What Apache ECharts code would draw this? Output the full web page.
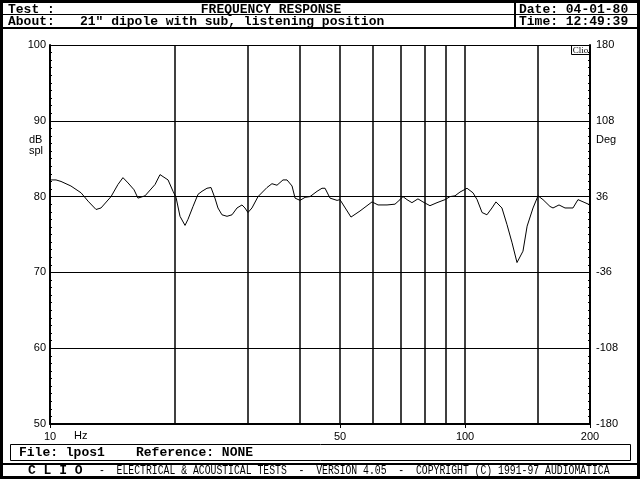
<!DOCTYPE html>
<html><head><meta charset="utf-8">
<script src="https://cdn.jsdelivr.net/npm/echarts@6/dist/echarts.min.js"></script>
<style>html,body{margin:0;padding:0;background:#fff}#c{width:640px;height:480px}</style>
</head><body><div id="c"></div>
<script>
// Frequency (Hz) and level (dB spl)
const freqs = [10.06, 10.34, 10.63, 11.23, 11.88, 12.35, 12.91, 13.27, 14.03, 14.58,
  14.99, 15.42, 15.94, 16.29, 16.94, 17.91, 18.41, 19.25, 19.79, 20.12,
  20.57, 21.15, 21.50, 22.11, 22.73, 23.24, 23.89, 24.43, 24.97, 25.39,
  25.96, 26.70, 27.45, 28.22, 29.01, 29.49, 29.99, 30.66, 31.71, 33.33,
  34.26, 35.23, 36.42, 37.24, 38.30, 38.94, 40.03, 41.16, 42.31, 44.00,
  45.22, 45.99, 47.28, 49.16, 49.96, 53.11, 55.83, 59.69, 61.71, 64.86,
  67.79, 69.70, 70.87, 72.45, 74.48, 77.00, 79.17, 82.31, 85.59, 89.48,
  91.99, 94.57, 97.23, 101.1, 104.5, 106.9, 109.9, 112.9, 116.1, 118.7,
  122.7, 126.2, 129.8, 133.4, 137.9, 141.1, 145.8, 149.9, 154.1, 160.2,
  162.9, 168.4, 174.1, 182.0, 187.1, 194.5, 200];
const levels = [82.2, 82.2, 82.0, 81.4, 80.5, 79.4, 78.3, 78.5, 80.0, 81.6,
  82.5, 81.8, 80.9, 79.8, 80.1, 81.6, 82.9, 82.2, 80.7, 79.9,
  77.4, 76.2, 77.0, 78.7, 80.3, 80.7, 81.1, 81.2, 79.8, 78.5,
  77.6, 77.4, 77.6, 78.5, 78.9, 78.5, 77.9, 78.5, 80.0, 81.2,
  81.7, 81.5, 82.2, 82.2, 81.4, 79.8, 79.5, 79.9, 80.0, 80.7,
  81.1, 81.1, 79.8, 79.5, 79.6, 77.3, 78.1, 79.3, 78.9, 78.9,
  79.0, 79.6, 80.0, 79.6, 79.2, 79.7, 79.3, 78.8, 79.2, 79.6,
  80.0, 80.1, 80.6, 81.1, 80.5, 79.6, 77.9, 77.6, 78.5, 79.3,
  78.5, 76.3, 73.9, 71.3, 72.8, 76.1, 78.5, 80.1, 79.6, 78.7,
  78.5, 78.9, 78.5, 78.5, 79.6, 79.2, 78.9];
const gridFreqs = [20, 30, 40, 50, 60, 70, 80, 90, 100, 150];
const xTickValues = [10, 50, 100, 200];
const leftTickValues = [50, 60, 70, 80, 90, 100];
const rightTickLabels = ['-180', '-108', '-36', '36', '108', '180'];

const MONO = '"Liberation Mono", "DejaVu Sans Mono", monospace';
const SANS = '"Liberation Sans", Arial, sans-serif';
const hdr = 'bold 13px ' + MONO;

const chart = echarts.init(document.getElementById('c'), null, {renderer: 'canvas'});
const axisLabelStyle = {color: '#000', fontFamily: SANS, fontSize: 11};
chart.setOption({
  backgroundColor: '#fff',
  animation: false,
  grid: {left: 50, right: 50, top: 45, bottom: 56},
  xAxis: {
    type: 'log', logBase: 10, min: 10, max: 200,
    axisLine: {show: true, onZero: false, lineStyle: {color: '#000', width: 2}},
    axisTick: {show: true, customValues: xTickValues, length: 4, lineStyle: {color: '#000', width: 1}},
    axisLabel: Object.assign({customValues: xTickValues, margin: 7}, axisLabelStyle),
    splitLine: {show: false}, minorTick: {show: false}, minorSplitLine: {show: false}
  },
  yAxis: [
    {
      type: 'value', min: leftTickValues[0], max: leftTickValues[leftTickValues.length - 1], interval: 10, position: 'left',
      axisLine: {show: true, lineStyle: {color: '#000', width: 2}},
      axisTick: {show: true, inside: true, length: 4, lineStyle: {color: '#000'}},
      minorTick: {show: true, splitNumber: 10, length: 2, lineStyle: {color: '#000'}},
      splitLine: {show: true, lineStyle: {color: '#000', width: 1}},
      axisLabel: Object.assign({margin: 4}, axisLabelStyle)
    },
    {
      type: 'value', min: leftTickValues[0], max: leftTickValues[leftTickValues.length - 1], interval: 10, position: 'right',
      axisLine: {show: true, lineStyle: {color: '#000', width: 2}},
      axisTick: {show: true, inside: true, length: 4, lineStyle: {color: '#000'}},
      minorTick: {show: true, splitNumber: 10, length: 2, lineStyle: {color: '#000'}},
      splitLine: {show: false},
      axisLabel: Object.assign({margin: 6, formatter: v => rightTickLabels[leftTickValues.indexOf(v)]}, axisLabelStyle)
    }
  ],
  series: [{
    type: 'line', yAxisIndex: 0, symbol: 'none', smooth: false,
    data: freqs.map((f, i) => [f, levels[i]]),
    lineStyle: {color: '#000', width: 1},
    markLine: {
      silent: true, symbol: ['none', 'none'], label: {show: false},
      lineStyle: {color: '#000', type: 'solid', width: 1.5},
      emphasis: {disabled: true},
      data: gridFreqs.map(f => ({xAxis: f}))
    }
  }],
  graphic: [
    {type: 'rect', shape: {x: 1.5, y: 1.5, width: 637, height: 476}, style: {fill: 'none', stroke: '#000', lineWidth: 3}},
    {type: 'rect', shape: {x: 3, y: 14, width: 634, height: 1}, style: {fill: '#000'}},
    {type: 'rect', shape: {x: 3, y: 27, width: 634, height: 2}, style: {fill: '#000'}},
    {type: 'rect', shape: {x: 514, y: 0, width: 2, height: 28}, style: {fill: '#000'}},
    {type: 'rect', shape: {x: 3, y: 463, width: 634, height: 2}, style: {fill: '#000'}},
    {type: 'rect', shape: {x: 10.5, y: 444.5, width: 620, height: 16}, style: {fill: 'none', stroke: '#000', lineWidth: 1}},
    {type: 'text', x: 8, y: 9.5, style: {text: 'Test :', font: hdr, fill: '#000', verticalAlign: 'middle'}},
    {type: 'text', x: 271, y: 9.5, style: {text: 'FREQUENCY RESPONSE', font: hdr, fill: '#000', align: 'center', verticalAlign: 'middle'}},
    {type: 'text', x: 519, y: 9.5, style: {text: 'Date: 04-01-80', font: hdr, fill: '#000', verticalAlign: 'middle'}},
    {type: 'text', x: 8, y: 22, style: {text: 'About:', font: hdr, fill: '#000', verticalAlign: 'middle'}},
    {type: 'text', x: 80, y: 22, style: {text: '21" dipole with sub, listening position', font: hdr, fill: '#000', verticalAlign: 'middle'}},
    {type: 'text', x: 519, y: 22, style: {text: 'Time: 12:49:39', font: hdr, fill: '#000', verticalAlign: 'middle'}},
    {type: 'text', x: 19, y: 453, style: {text: 'File: lpos1    Reference: NONE', font: hdr, fill: '#000', verticalAlign: 'middle'}},
    {type: 'text', x: 28, y: 471, style: {text: 'C L I O', font: 'bold 13px ' + MONO, fill: '#000', verticalAlign: 'middle'}},
    {type: 'text', x: 99, y: 471, scaleX: 0.815, style: {
      text: '-  ELECTRICAL & ACOUSTICAL TESTS  -  VERSION 4.05  -  COPYRIGHT (C) 1991-97 AUDIOMATICA',
      font: '12px ' + MONO, fill: '#000', verticalAlign: 'middle'}},
    {type: 'text', x: 29, y: 140, style: {text: 'dB', font: '11px ' + SANS, fill: '#000', verticalAlign: 'middle'}},
    {type: 'text', x: 29, y: 151, style: {text: 'spl', font: '11px ' + SANS, fill: '#000', verticalAlign: 'middle'}},
    {type: 'text', x: 596, y: 140, style: {text: 'Deg', font: '11px ' + SANS, fill: '#000', verticalAlign: 'middle'}},
    {type: 'text', x: 74, y: 436, style: {text: 'Hz', font: '11px ' + SANS, fill: '#000', verticalAlign: 'middle'}},
    {type: 'rect', shape: {x: 571.5, y: 45.5, width: 18, height: 9}, style: {fill: '#fff', stroke: '#000', lineWidth: 1}},
    {type: 'text', x: 580.5, y: 50.5, style: {text: 'Clio', font: '9px "Liberation Serif", serif', fill: '#000', align: 'center', verticalAlign: 'middle'}}
  ]
});
</script>
</body></html>
